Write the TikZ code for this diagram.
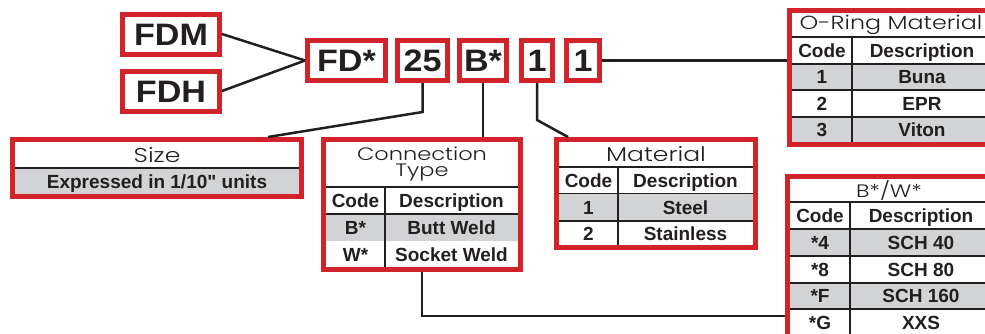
\documentclass[tikz,border=0pt]{standalone}
\usepackage{fontspec}
\setmainfont{Liberation Sans}[Ligatures=TeXOff]
\newfontfamily\ttlfont{Poppins Light}[FakeStretch=1.25]
\newfontfamily\bigfont{Liberation Sans Bold}[FakeStretch=1.1]
\usetikzlibrary{calc}
\definecolor{fdred}{HTML}{D2232A}
\definecolor{ink}{HTML}{231F20}
\definecolor{cellgray}{HTML}{D1D3D4}
\tikzset{
 codebox/.style={draw=fdred, line width=5pt, inner sep=0pt, font=\bigfont\fontsize{31}{31}\selectfont, text=ink, text height=22pt, text depth=0pt, minimum height=40pt},
 frame/.style={draw=fdred, line width=5pt, inner sep=0pt, anchor=north west},
 cell/.style={inner sep=0pt, font=\bfseries\fontsize{19}{19}\selectfont, text=ink, text height=13.6pt, text depth=0pt},
 ttl/.style={inner sep=0pt, font=\ttlfont\fontsize{20}{15.5}\selectfont, text=ink, align=center},
 ttlsmall/.style={ttl, font=\ttlfont\fontsize{18}{16.5}\selectfont},
 grid/.style={draw=ink, line width=1.8pt},
 conn/.style={draw=ink, line width=2.5pt},
}
\begin{document}
\begin{tikzpicture}[x=1pt,y=-1pt]
\useasboundingbox (0,0) rectangle (985,333);
\clip (0,0) rectangle (985,333);
% ---- top code boxes
\node[codebox, minimum width=97pt] (fdm) at (171,34) {FDM};
\node[codebox, minimum width=97pt] (fdh) at (171,91) {FDH};
\node[codebox, minimum width=78pt] (fdx) at (346.5,60.5) {FD*};
\node[codebox, minimum width=50pt] (n25) at (422.5,60.5) {25};
\node[codebox, minimum width=47pt] (bx) at (483,60.5) {B*};
\node[codebox, minimum width=31pt] (one1) at (537,60.5) {1};
\node[codebox, minimum width=33pt] (one2) at (583,60.5) {1};
% ---- Size table
\fill[cellgray] (10,168) rectangle (304,199);
\draw[grid] (10,168) -- (304,168);
\node[ttl] (sizet) at (157,155) {Size};
\node[cell] (sized) at (157,181.5) {Expressed in 1/10" units};
\node[frame, minimum width=289pt, minimum height=57pt] (size) at (10,137) {};
% ---- Connection Type table
\fill[cellgray] (321,214) rectangle (523,241);
\draw[grid] (321,187) -- (523,187);
\draw[grid] (321,214) -- (523,214);
\draw[grid] (385,187) -- (385,272);
\node[ttlsmall] (ctt) at (422,164) {Connection\\Type};
\node[cell] (ctc1) at (355.5,200.5) {Code};
\node[cell] (ctd1) at (451.5,200.5) {Description};
\node[cell] (ctc2) at (355.5,228) {B*};
\node[cell] (ctd2) at (451.5,228) {Butt Weld};
\node[cell] (ctc3) at (355.5,254.5) {W*};
\node[cell] (ctd3) at (451.5,254.5) {Socket Weld};
\node[frame, minimum width=197pt, minimum height=130pt] (ctype) at (321,137) {};
% ---- Material table
\fill[cellgray] (554,194) rectangle (758,221);
\draw[grid] (554,167) -- (758,167);
\draw[grid] (554,193.5) -- (758,193.5);
\draw[grid] (554,221) -- (758,221);
\draw[grid] (618,167) -- (618,250);
\node[ttl] (matt) at (656,154) {Material};
\node[cell] (mc1) at (588.5,180.5) {Code};
\node[cell] (md1) at (685.5,180.5) {Description};
\node[cell] (mc2) at (588.5,207.5) {1};
\node[cell] (md2) at (685.5,207.5) {Steel};
\node[cell] (mc3) at (588.5,233.5) {2};
\node[cell] (md3) at (685.5,233.5) {Stainless};
\node[frame, minimum width=199pt, minimum height=108pt] (mat) at (554,137) {};
% ---- O-Ring table
\fill[cellgray] (787,64) rectangle (997,90);
\fill[cellgray] (787,117) rectangle (997,147);
\draw[grid] (787,37) -- (997,37);
\draw[grid] (787,64) -- (997,64);
\draw[grid] (787,90) -- (997,90);
\draw[grid] (787,117) -- (997,117);
\draw[grid] (852,37) -- (852,147);
\node[ttl, font=\ttlfont\fontsize{19}{19}\selectfont] (ort) at (891,25) {O-Ring Material};
\node[cell] (oc1) at (822,50.5) {Code};
\node[cell] (od1) at (922,50.5) {Description};
\node[cell] (oc2) at (822,77) {1};
\node[cell] (od2) at (922,77) {Buna};
\node[cell] (oc3) at (822,103.5) {2};
\node[cell] (od3) at (922,103.5) {EPR};
\node[cell] (oc4) at (822,130) {3};
\node[cell] (od4) at (922,130) {Viton};
\node[frame, minimum width=205pt, minimum height=134pt] (oring) at (787,8) {};
% ---- B*/W* table
\fill[cellgray] (785,229) rectangle (997,256);
\fill[cellgray] (785,283) rectangle (997,309);
\draw[grid] (785,202) -- (997,202);
\draw[grid] (785,229) -- (997,229);
\draw[grid] (785,256) -- (997,256);
\draw[grid] (785,283) -- (997,283);
\draw[grid] (785,309) -- (997,309);
\draw[grid] (850,202) -- (850,345);
\node[ttlsmall] (bwt) at (889,190.5) {B*/W*};
\node[cell] (bc1) at (820,216) {Code};
\node[cell] (bd1) at (921,216) {Description};
\node[cell] (bc2) at (820,243) {*4};
\node[cell] (bd2) at (921,243) {SCH 40};
\node[cell] (bc3) at (820,270) {*8};
\node[cell] (bd3) at (921,270) {SCH 80};
\node[cell] (bc4) at (820,296) {*F};
\node[cell] (bd4) at (921,296) {SCH 160};
\node[cell] (bc5) at (820,322.5) {*G};
\node[cell] (bd5) at (921,322.5) {XXS};
\node[frame, minimum width=207pt, minimum height=166pt] (bw) at (785,174) {};
% ---- connectors
\coordinate (k25) at (268,137);
\coordinate (kmat) at (568,137);
\coordinate (kbw) at (785,316);
\draw[conn] (fdm.east) -- (fdx.west);
\draw[conn] (fdh.east) -- (fdx.west);
\draw[conn] (one2.east) -- (one2.east -| oring.west);
\draw[conn] (n25.south) -- ++(0,29) -- (k25);
\draw[conn] (bx.south) -- (bx.south |- ctype.north);
\draw[conn] (one1.south) -- ++(0,37) -- (kmat);
\draw[conn] (ctype.south) |- (kbw);
\end{tikzpicture}
\end{document}
